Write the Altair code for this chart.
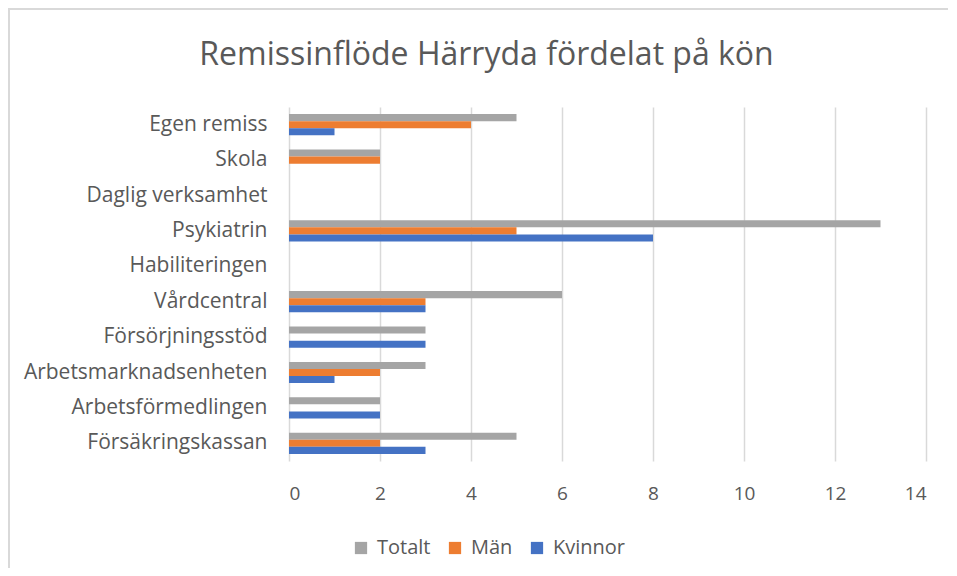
import altair as alt
import pandas as pd

categories = ["Egen remiss", "Skola", "Daglig verksamhet", "Psykiatrin", "Habiliteringen",
              "Vårdcentral", "Försörjningsstöd", "Arbetsmarknadsenheten",
              "Arbetsförmedlingen", "Försäkringskassan"]
series = ["Totalt", "Män", "Kvinnor"]
totalt = [5, 2, 0, 13, 0, 6, 3, 3, 2, 5]
man = [4, 2, 0, 5, 0, 3, 0, 2, 0, 2]
kvinnor = [1, 0, 0, 8, 0, 3, 3, 1, 2, 3]
colors = ["#a5a5a5", "#ed7d31", "#4472c4"]
x_ticks = [0, 2, 4, 6, 8, 10, 12, 14]

rows = []
for name, vals in zip(series, [totalt, man, kvinnor]):
    for c, v in zip(categories, vals):
        rows.append({"Kategori": c, "Serie": name, "Antal": v})
df = pd.DataFrame(rows)

FONT = "Open Sans"
TXT = "#595959"

bars = alt.Chart(df).mark_bar(cornerRadius=0).encode(
    y=alt.Y("Kategori:N", sort=categories,
            scale=alt.Scale(paddingInner=0.4, paddingOuter=0.2),
            axis=alt.Axis(title=None, domain=False, ticks=False, grid=False,
                          labelFont=FONT, labelFontSize=21, labelColor=TXT,
                          labelPadding=22, labelLimit=300)),
    yOffset=alt.YOffset("Serie:N", sort=series,
                        scale=alt.Scale(paddingInner=0, paddingOuter=0)),
    x=alt.X("Antal:Q", scale=alt.Scale(domain=[0, 14], nice=False),
            axis=alt.Axis(title=None, values=x_ticks, domain=False, ticks=False,
                          grid=True, gridColor="#d9d9d9", gridWidth=1.5,
                          labelFont=FONT, labelFontSize=19, labelColor=TXT,
                          labelPadding=23)),
    color=alt.Color("Serie:N", sort=series,
                    scale=alt.Scale(domain=series, range=colors),
                    legend=alt.Legend(title=None, orient="none", direction="horizontal",
                                      legendX=62, legendY=431,
                                      symbolType="square", symbolSize=150,
                                      symbolStrokeWidth=0, labelFont=FONT,
                                      labelFontSize=20, labelColor=TXT,
                                      labelOffset=6, columnPadding=14)),
)

frame = pd.DataFrame({"k": [0]})
top_border = alt.Chart(frame).mark_rule(color="#d9d9d9", strokeWidth=2).encode(
    x=alt.value(-281), x2=alt.value(660), y=alt.value(-98))
left_border = alt.Chart(frame).mark_rule(color="#d9d9d9", strokeWidth=2).encode(
    x=alt.value(-280), y=alt.value(-99), y2=alt.value(461))

chart = alt.layer(bars, top_border, left_border).properties(
    width=637, height=354,
    autosize=alt.AutoSizeParams(type="none"),
    padding={"left": 281, "top": 99, "right": 22, "bottom": 107},
    title=alt.TitleParams("Remissinflöde Härryda fördelat på kön", font=FONT,
                          fontSize=32, fontWeight="normal", color=TXT,
                          anchor="middle", frame="group", baseline="alphabetic",
                          dx=-121, offset=-90),
).configure_view(stroke=None)

chart.save("out.html", embed_options={"renderer": "svg", "actions": False})
